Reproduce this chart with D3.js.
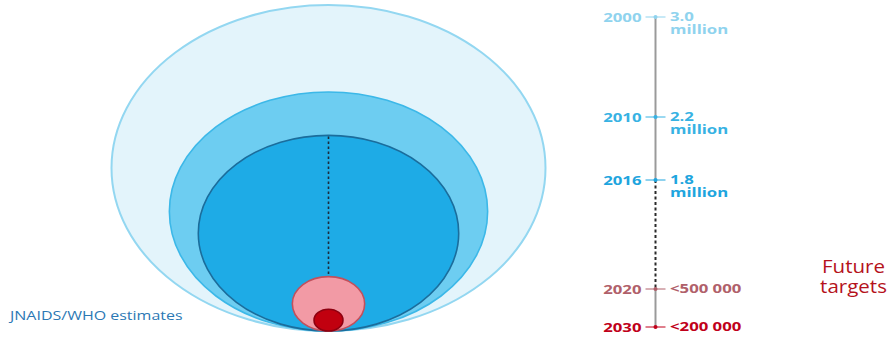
<!DOCTYPE html>
<html>
<head>
<meta charset="utf-8">
<script src="https://cdn.jsdelivr.net/npm/d3@7"></script>
<style>
  html, body { margin: 0; padding: 0; background: #ffffff; }
  svg { display: block; }
  text { font-family: "Open Sans", "Noto Sans", sans-serif; }
</style>
</head>
<body>
<svg id="chart" width="890" height="337"></svg>
<script>
// New HIV infections among children: estimates and future targets
const years = [2000, 2010, 2016, 2020, 2030];
const values = [3.0, 2.2, 1.8, 0.5, 0.2];          // millions
const valueLabels = ["3.0", "2.2", "1.8", "<500 000", "<200 000"];
const unitLabels = ["million", "million", "million", "", ""];
const fills = ["#e3f4fb", "#6dcdf1", "#1eabe6", "#f29aa5", "#c1000f"];
const strokes = ["#93d7f1", "#3cb8e8", "#1b6d9c", "#c2505c", "#8e0010"];
const labelColors = ["#8fd3ee", "#37b2e3", "#1ea5de", "#b0606a", "#c0001a"];
const sourceLabel = "JNAIDS/WHO estimates";
const targetLabel = ["Future", "targets"];

const svg = d3.select("#chart");
const stretch = 1.34; // wide lettering

// Nested ellipses, all resting on the same baseline, radii proportional to value
const cx = 328.5, baseY = 331;
const rx = d3.scaleLinear().domain([0, 3]).range([0, 217]);
const ry = d3.scaleLinear().domain([0, 3]).range([0, 163]);

const ell = years.map((y, i) => ({ year: y, v: values[i], i }));

svg.append("g").selectAll("ellipse")
  .data(ell)
  .join("ellipse")
  .attr("cx", cx)
  .attr("cy", d => baseY - ry(d.v))
  .attr("rx", d => rx(d.v))
  .attr("ry", d => ry(d.v))
  .attr("fill", d => fills[d.i])
  .attr("stroke", d => strokes[d.i])
  .attr("stroke-width", d => d.i === 0 ? 2 : 1.6);

// dotted drop from latest estimate to the 2020 target
svg.append("line")
  .attr("x1", cx).attr("x2", cx)
  .attr("y1", baseY - 2 * ry(values[2]) + 1)
  .attr("y2", baseY - 2 * ry(values[3]) - 1)
  .attr("stroke", "#1c2a3a")
  .attr("stroke-width", 1.6)
  .attr("stroke-dasharray", "2.5,2.5");

// Timeline
const tx = 655.5;
const ty = d3.scaleLinear()
  .domain([2000, 2010, 2016, 2020, 2030])
  .range([17, 117, 180, 289, 327]);

svg.append("line")
  .attr("x1", tx).attr("x2", tx)
  .attr("y1", ty(2000)).attr("y2", ty(2016))
  .attr("stroke", "#9a9a9a").attr("stroke-width", 2);
svg.append("line")
  .attr("x1", tx).attr("x2", tx)
  .attr("y1", ty(2016)).attr("y2", ty(2020))
  .attr("stroke", "#2a2a2a").attr("stroke-width", 2)
  .attr("stroke-dasharray", "3,2.5");
svg.append("line")
  .attr("x1", tx).attr("x2", tx)
  .attr("y1", ty(2020)).attr("y2", ty(2030))
  .attr("stroke", "#9a9a9a").attr("stroke-width", 2);

const rows = svg.append("g").selectAll("g")
  .data(ell)
  .join("g")
  .attr("transform", d => `translate(${tx},${ty(d.year)})`);

rows.append("line")
  .attr("x1", -10).attr("x2", 10)
  .attr("stroke", d => labelColors[d.i])
  .attr("stroke-width", 1);
rows.append("circle")
  .attr("r", 2)
  .attr("fill", d => labelColors[d.i]);

rows.append("text")
  .attr("transform", `translate(-14,4.5) scale(${stretch},1)`)
  .attr("text-anchor", "end")
  .attr("font-size", 12.5)
  .attr("font-weight", 700)
  .attr("fill", d => labelColors[d.i])
  .text(d => d.year);

// value with its unit on a second line
const vt = rows.append("text")
  .attr("transform", `translate(14.5,4) scale(${stretch},1)`)
  .attr("font-size", 12.5)
  .attr("font-weight", 700)
  .attr("fill", d => labelColors[d.i]);
vt.append("tspan").attr("x", 0).text(d => valueLabels[d.i]);
vt.filter(d => unitLabels[d.i])
  .append("tspan").attr("x", 0).attr("dy", 13)
  .text(d => unitLabels[d.i]);

// Source note
svg.append("text")
  .attr("transform", `translate(10,319.5) scale(1.28,1)`)
  .attr("font-size", 12.5)
  .attr("fill", "#2b78b4")
  .text(sourceLabel);

// Future targets note
const ft = svg.append("text")
  .attr("transform", `translate(853.5,272.5) scale(1.14,1)`)
  .attr("text-anchor", "middle")
  .attr("font-size", 18)
  .attr("fill", "#b5121b");
ft.selectAll("tspan")
  .data(targetLabel)
  .join("tspan")
  .attr("x", 0)
  .attr("dy", (d, i) => i === 0 ? 0 : 21)
  .text(d => d);
</script>
</body>
</html>
